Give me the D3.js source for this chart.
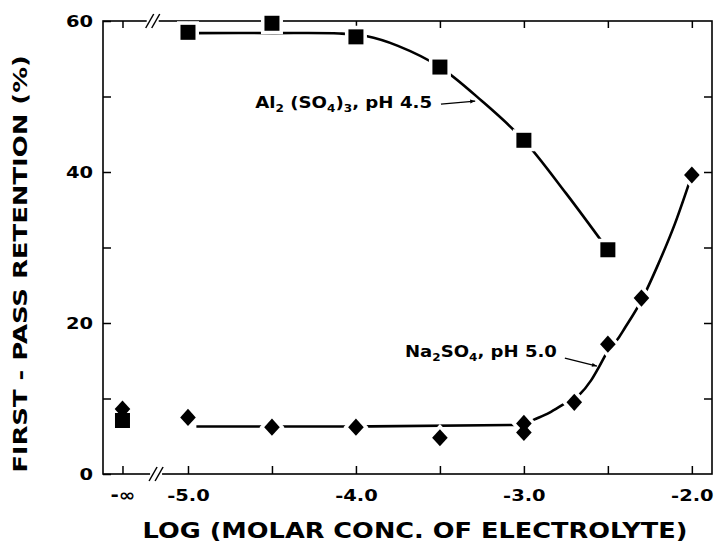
<!DOCTYPE html>
<html><head><meta charset="utf-8">
<script src="https://cdn.jsdelivr.net/npm/d3@7"></script>
<style>html,body{margin:0;padding:0;background:#fff}svg{display:block}</style>
</head><body><svg id="c" width="718" height="552"></svg>
<script>
// ---- data ----
const NEG_INF_POS = -5.39;                 // where "-∞" sits on the broken axis
const alX = [-Infinity, -5.0, -4.5, -4.0, -3.5, -3.0, -2.5];
const alY = [7.1, 58.5, 59.7, 57.9, 53.9, 44.2, 29.7];
const naX = [-Infinity, -5.0, -4.5, -4.0, -3.5, -3.0, -3.0, -2.7, -2.5, -2.3, -2.0];
const naY = [8.6, 7.5, 6.2, 6.2, 4.8, 6.7, 5.5, 9.5, 17.2, 23.3, 39.6];
// hand-drawn fitted curves
const alFitX = [-4.97, -4.5, -4.1, -3.94, -3.75, -3.5, -3.25, -3.0, -2.75, -2.5];
const alFitY = [58.4, 58.4, 58.35, 58.0, 56.7, 53.9, 49.4, 44.2, 37.2, 29.7];
const naFitX = [-4.95, -4.0, -3.05, -3.0, -2.94, -2.85, -2.76, -2.67, -2.6, -2.55, -2.5, -2.44, -2.4, -2.3, -2.2, -2.1, -2.0];
const naFitY = [6.3, 6.3, 6.5, 6.6, 7.2, 8.1, 9.3, 10.5, 12.4, 14.3, 16.3, 17.9, 19.3, 23.0, 27.8, 33.2, 39.6];
const xTickVals = [-Infinity, -5.0, -4.5, -4.0, -3.5, -3.0, -2.5, -2.0];
const xTickLabels = ["-\u221E", "-5.0", "", "-4.0", "", "-3.0", "", "-2.0"];
const yTickVals = [0, 10, 20, 30, 40, 50, 60];
const yTickLabels = ["0", "", "20", "", "40", "", "60"];
const xTitle = "LOG (MOLAR CONC. OF ELECTROLYTE)";
const yTitle = "FIRST - PASS RETENTION (%)";
// label anchors (data units)
const alLabelPos = [-4.60, 48.5];
const alLeader = [[-3.494, 49.0], [-3.29, 49.4]];
const naLabelPos = [-3.708, 15.5];
const naLeader = [[-2.756, 15.36], [-2.565, 14.3]];

// ---- layout ----
const W = 718, H = 552;
const m = {left: 103, right: 6, top: 21, bottom: 78};
const FONT = "'DejaVu Sans', 'Liberation Sans', Arial, sans-serif";
const svg = d3.select("#c");
const pos = v => (v === -Infinity ? NEG_INF_POS : v);
const x = d3.scaleLinear().domain([-5.506, -1.88]).range([m.left, W - m.right]);
const y = d3.scaleLinear().domain([0, 60]).range([H - m.bottom, m.top]);
const X = v => x(pos(v));

function stretch(sel, s, anchor) {
  sel.each(function () {
    const el = d3.select(this);
    const bb = this.getBBox();
    let x0 = anchor === "start" ? bb.x : anchor === "end" ? bb.x + bb.width : bb.x + bb.width / 2;
    el.attr("transform", `translate(${x0 * (1 - s)},0) scale(${s},1)`);
  });
}
function fitTo(sel, target, anchor) {
  sel.each(function () {
    const bb = this.getBBox();
    stretch(d3.select(this), target / bb.width, anchor);
  });
}

// frame
svg.append("rect").attr("x", m.left).attr("y", m.top)
  .attr("width", W - m.left - m.right).attr("height", H - m.top - m.bottom)
  .attr("fill", "none").attr("stroke", "#000").attr("stroke-width", 1.6);

// axes
const gx = svg.append("g").attr("transform", `translate(0,${H - m.bottom})`)
  .call(d3.axisBottom(x).tickValues(xTickVals.map(pos)).tickSize(-8).tickPadding(15)
    .tickFormat((d, i) => xTickLabels[i]));
const gxt = svg.append("g").attr("transform", `translate(0,${m.top})`)
  .call(d3.axisTop(x).tickValues(xTickVals.map(pos)).tickSize(-7).tickFormat(""));
const gy = svg.append("g").attr("transform", `translate(${m.left},0)`)
  .call(d3.axisLeft(y).tickValues(yTickVals).tickSize(-8).tickPadding(10)
    .tickFormat((d, i) => yTickLabels[i]));
const gyr = svg.append("g").attr("transform", `translate(${W - m.right},0)`)
  .call(d3.axisRight(y).tickValues(yTickVals.slice(1, -1)).tickSize(-8).tickFormat(""));
[gx, gxt, gy, gyr].forEach(g => {
  g.select(".domain").remove();
  g.selectAll(".tick line").attr("stroke", "#000").attr("stroke-width", 1.5);
  g.selectAll("text").attr("font-family", FONT).attr("font-weight", "bold")
    .attr("font-size", 16.5).attr("fill", "#000");
});
gx.selectAll(".tick text").filter((d, i) => i === 0).attr("font-size", 17);
stretch(gx.selectAll(".tick text"), 1.18, "middle");
stretch(gy.selectAll(".tick text"), 1.18, "end");

// axis breaks
function brk(xc, yc) {
  const g = svg.append("g");
  g.append("rect").attr("x", xc - 6).attr("y", yc - 3).attr("width", 12).attr("height", 6).attr("fill", "#fff");
  [-3, 3].forEach(o => g.append("line")
    .attr("x1", xc + o - 4).attr("y1", yc + 7).attr("x2", xc + o + 4).attr("y2", yc - 7)
    .attr("stroke", "#000").attr("stroke-width", 1.5));
}
brk(x(-5.19), H - m.bottom);
brk(x(-5.21), m.top);

// fitted curves
const lineAl = d3.line().x(d => x(d[0])).y(d => y(d[1])).curve(d3.curveCatmullRom.alpha(0.5));
const lineNa = d3.line().x(d => x(d[0])).y(d => y(d[1])).curve(d3.curveMonotoneX);
svg.append("path").datum(d3.zip(alFitX, alFitY)).attr("d", lineAl)
  .attr("fill", "none").attr("stroke", "#000").attr("stroke-width", 2.6);
svg.append("path").datum(d3.zip(naFitX, naFitY)).attr("d", lineNa)
  .attr("fill", "none").attr("stroke", "#000").attr("stroke-width", 2.6);

// markers
const sq = 7.5, dw = 7.8, dh = 8.6;
const sqPath = (cx, cy) => `M${cx - sq},${cy - sq}h${2 * sq}v${2 * sq}h${-2 * sq}Z`;
const dmPath = (cx, cy) => `M${cx},${cy - dh}L${cx + dw},${cy}L${cx},${cy + dh}L${cx - dw},${cy}Z`;
const alPts = d3.zip(alX, alY), naPts = d3.zip(naX, naY);
const halo = svg.append("g"), mk = svg.append("g");
[[naPts, dmPath], [alPts, sqPath]].forEach(([pts, shp]) => {
  halo.selectAll(null).data(pts.filter(d => d[0] !== -Infinity)).join("path")
    .attr("d", d => shp(X(d[0]), y(d[1]))).attr("fill", "#fff").attr("stroke", "#fff").attr("stroke-width", 7);
});
[[naPts, dmPath], [alPts, sqPath]].forEach(([pts, shp]) => {
  mk.selectAll(null).data(pts).join("path")
    .attr("d", d => shp(X(d[0]), y(d[1]))).attr("fill", "#000");
});

// series labels
function chemLabel(parts, px, py, target) {
  const t = svg.append("text").attr("x", x(px)).attr("y", y(py))
    .attr("font-family", FONT).attr("font-weight", "bold").attr("font-size", 16.5).attr("fill", "#000");
  let prevSub = false;
  parts.forEach(([s, sub]) => {
    const ts = t.append("tspan").text(s);
    if (sub) ts.attr("font-size", 11);
    ts.attr("dy", sub ? (prevSub ? 0 : 4) : (prevSub ? -4 : 0));
    prevSub = sub;
  });
  fitTo(t, target, "start");
}
chemLabel([["Al", 0], ["2", 1], [" (SO", 0], ["4", 1], [")", 0], ["3", 1], [",  pH 4.5", 0]], alLabelPos[0], alLabelPos[1], 177);
chemLabel([["Na", 0], ["2", 1], ["SO", 0], ["4", 1], [",  pH 5.0", 0]], naLabelPos[0], naLabelPos[1], 152);

// leaders with arrowheads
svg.append("defs").append("marker").attr("id", "ah").attr("viewBox", "0 0 10 10")
  .attr("refX", 10).attr("refY", 5).attr("markerWidth", 7).attr("markerHeight", 5)
  .attr("orient", "auto").attr("markerUnits", "userSpaceOnUse")
  .append("path").attr("d", "M0,1L10,5L0,9Z").attr("fill", "#000");
[alLeader, naLeader].forEach(L => {
  svg.append("path").attr("d", d3.line().x(d => x(d[0])).y(d => y(d[1])).curve(d3.curveBasis)(L))
    .attr("fill", "none").attr("stroke", "#000").attr("stroke-width", 1.3).attr("marker-end", "url(#ah)");
});

// axis titles
const xt = svg.append("text").attr("x", 415).attr("y", 538).attr("text-anchor", "middle")
  .attr("font-family", FONT).attr("font-weight", "bold").attr("font-size", 20.5).attr("fill", "#000")
  .text(xTitle);
fitTo(xt, 545, "middle");
const yg = svg.append("g").attr("transform", "translate(27,264) rotate(-90)");
const yt = yg.append("text").attr("x", 0).attr("y", 0).attr("text-anchor", "middle")
  .attr("font-family", FONT).attr("font-weight", "bold").attr("font-size", 19.5).attr("fill", "#000")
  .text(yTitle);
fitTo(yt, 418, "middle");
</script></body></html>
